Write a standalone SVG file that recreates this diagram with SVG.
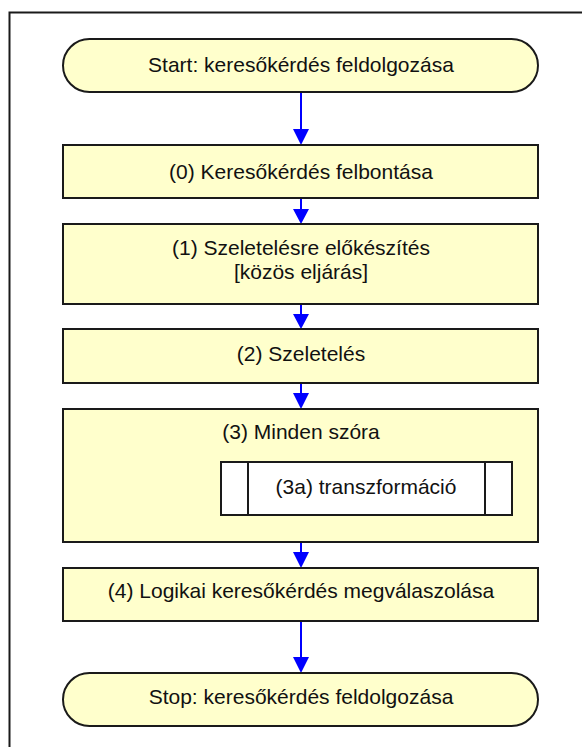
<svg xmlns="http://www.w3.org/2000/svg" width="582" height="747" viewBox="0 0 582 747">
<style>
.box{fill:#FFFFCC;stroke:#1a1a1a;stroke-width:2}
.inner{fill:#FFFFFF;stroke:#1a1a1a;stroke-width:2}
.t{font-family:"Liberation Sans",Arial,sans-serif;font-size:21px;fill:#111;text-anchor:middle}
.c{stroke:#0000FF;stroke-width:2;fill:none}
.h{fill:#0000FF}
</style>
<rect x="0" y="0" width="582" height="747" fill="#FFFFFF"/>
<rect x="9.5" y="12.5" width="620" height="800" fill="none" stroke="#1a1a1a" stroke-width="2"/>
<g id="connectors">
<line class="c" x1="301" y1="92" x2="301" y2="132"/><polygon class="h" points="293,129 309,129 301,145"/>
<line class="c" x1="301" y1="198" x2="301" y2="212"/><polygon class="h" points="293,209 309,209 301,224"/>
<line class="c" x1="301" y1="304" x2="301" y2="316"/><polygon class="h" points="293,314 309,314 301,329"/>
<line class="c" x1="301" y1="383" x2="301" y2="396"/><polygon class="h" points="293,393 309,393 301,409"/>
<line class="c" x1="301" y1="542" x2="301" y2="555"/><polygon class="h" points="293,552 309,552 301,568"/>
<line class="c" x1="301" y1="621" x2="301" y2="660"/><polygon class="h" points="293,657 309,657 301,673"/>
</g>
<g id="start">
<rect class="box" x="63" y="39" width="475" height="53" rx="26.5" ry="26.5"/>
<text class="t" x="301" y="72">Start: keresőkérdés feldolgozása</text>
</g>
<g id="step0">
<rect class="box" x="63" y="145" width="475" height="53"/>
<text class="t" x="301" y="179">(0) Keresőkérdés felbontása</text>
</g>
<g id="step1">
<rect class="box" x="63" y="224" width="475" height="80"/>
<text class="t" x="301" y="255">(1) Szeletelésre előkészítés</text>
<text class="t" x="301" y="279">[közös eljárás]</text>
</g>
<g id="step2">
<rect class="box" x="63" y="329" width="475" height="54"/>
<text class="t" x="301" y="361">(2) Szeletelés</text>
</g>
<g id="step3">
<rect class="box" x="63" y="409" width="475" height="133"/>
<text class="t" x="301" y="439">(3) Minden szóra</text>
<g id="step3a">
<rect class="inner" x="221" y="462" width="291" height="53"/>
<line x1="248" y1="462" x2="248" y2="515" stroke="#1a1a1a" stroke-width="2"/>
<line x1="485" y1="462" x2="485" y2="515" stroke="#1a1a1a" stroke-width="2"/>
<text class="t" x="366" y="494">(3a) transzformáció</text>
</g>
</g>
<g id="step4">
<rect class="box" x="63" y="568" width="475" height="53"/>
<text class="t" x="301" y="598">(4) Logikai keresőkérdés megválaszolása</text>
</g>
<g id="stop">
<rect class="box" x="63" y="673" width="475" height="53" rx="26.5" ry="26.5"/>
<text class="t" x="301" y="704">Stop: keresőkérdés feldolgozása</text>
</g>
</svg>
